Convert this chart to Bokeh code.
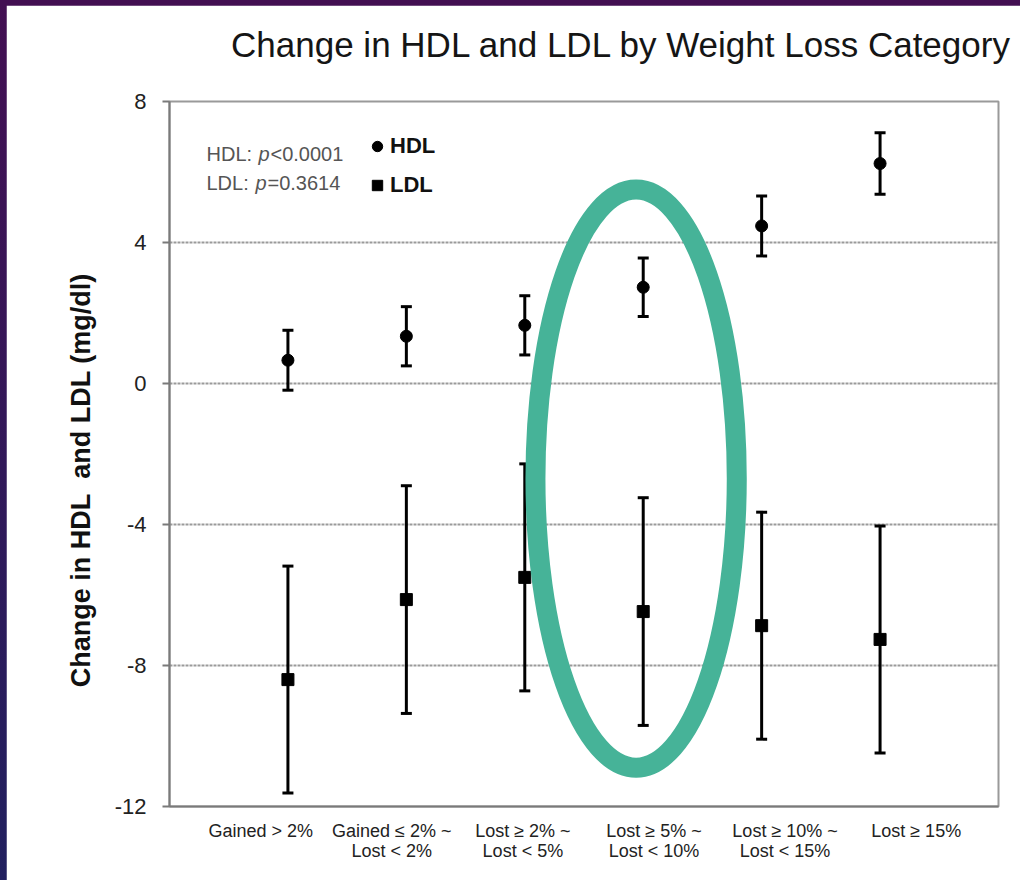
from bokeh.plotting import figure
from bokeh.models import (Range1d, FixedTicker, Whisker, TeeHead, ColumnDataSource,
                          Legend, LegendItem, Label, Title)
from bokeh.embed import file_html
from bokeh.resources import INLINE

# ---------------- data ----------------
categories = ["Gained > 2%", "Gained \u2264 2% ~\nLost < 2%", "Lost \u2265 2% ~\nLost < 5%",
              "Lost \u2265 5% ~\nLost < 10%", "Lost \u2265 10% ~\nLost < 15%", "Lost \u2265 15%"]
positions = [1, 2, 3, 4, 5, 6]
hdl_mean = [0.66, 1.34, 1.65, 2.73, 4.47, 6.24]
hdl_err = [0.85, 0.84, 0.84, 0.83, 0.85, 0.87]
ldl_mean = [-8.40, -6.13, -5.50, -6.47, -6.87, -7.26]
ldl_err = [3.22, 3.23, 3.22, 3.23, 3.22, 3.22]
y_ticks = [-12, -8, -4, 0, 4, 8]
y_tick_labels = ["-12", "-8", "-4", "0", "4", "8"]
title_text = "Change in HDL and LDL by Weight Loss Category"
y_label_text = "Change in HDL\u00a0 and LDL (mg/dl)"
hdl_p_text = "<0.0001"
ldl_p_text = "=0.3614"
highlight_category = 4
highlight_center_y = -2.70

# ---------------- style ----------------
FONT = "Liberation Sans"
LABEL_START = 0.77      # tick-label placement (labels are spread wider than the points)
LABEL_STEP = 1.107
HIGHLIGHT_COLOR = "#46B398"
FRAME_W, FRAME_H = 829, 705
Y_LABEL_PAD = "\u00a0" * 7   # shifts the vertical axis label slightly downward

src_h = ColumnDataSource(dict(x=positions, y=hdl_mean,
                              lo=[m - e for m, e in zip(hdl_mean, hdl_err)],
                              hi=[m + e for m, e in zip(hdl_mean, hdl_err)]))
src_l = ColumnDataSource(dict(x=positions, y=ldl_mean,
                              lo=[m - e for m, e in zip(ldl_mean, ldl_err)],
                              hi=[m + e for m, e in zip(ldl_mean, ldl_err)]))

p = figure(frame_width=FRAME_W, frame_height=FRAME_H, output_backend="svg", toolbar_location=None,
           x_range=Range1d(0, 7), y_range=Range1d(-12, 8),
           min_border_left=163, min_border_right=22, min_border_top=96, min_border_bottom=74,
           background_fill_color="white", border_fill_color="white")
p.title_location = None

# spacer (closest to the frame) then the real title
p.add_layout(Title(text=" ", text_font_size="1px", standoff=20), "above")
p.add_layout(Title(text=title_text, align="right", offset=-14, standoff=30,
                   text_font=FONT, text_font_size="35px", text_font_style="normal",
                   text_color="#151515"), "above")

p.outline_line_color = "#9a9a9a"
p.outline_line_width = 2

# axes
ya = p.yaxis[0]
ya.ticker = FixedTicker(ticks=y_ticks)
ya.major_label_overrides = {t: s for t, s in zip(y_ticks, y_tick_labels)}
ya.major_tick_out = 7
ya.major_tick_in = 0
ya.minor_tick_line_color = None
ya.axis_line_color = "#7a7a7a"
ya.axis_line_width = 2
ya.major_tick_line_color = "#7a7a7a"
ya.major_tick_line_width = 2
ya.major_label_text_font = FONT
ya.major_label_text_font_size = "22px"
ya.major_label_text_color = "#222222"
ya.major_label_standoff = 16
ya.axis_label = y_label_text + Y_LABEL_PAD
ya.axis_label_text_font = FONT
ya.axis_label_text_font_size = "27px"
ya.axis_label_text_font_style = "bold"
ya.axis_label_text_color = "#111111"
ya.axis_label_standoff = 16

label_pos = [round(LABEL_START + i * LABEL_STEP, 3) for i in range(len(categories))]
xa = p.xaxis[0]
xa.ticker = FixedTicker(ticks=label_pos)
xa.major_label_overrides = {lp: c for lp, c in zip(label_pos, categories)}
xa.major_tick_line_color = None
xa.minor_tick_line_color = None
xa.axis_line_color = "#7a7a7a"
xa.axis_line_width = 2
xa.major_label_text_font = FONT
xa.major_label_text_font_size = "18px"
xa.major_label_text_line_height = 1.0
xa.major_label_text_color = "#222222"
xa.major_label_standoff = 8

p.xgrid.grid_line_color = None
p.ygrid.ticker = FixedTicker(ticks=y_ticks)
p.ygrid.grid_line_color = "#9a9a9a"
p.ygrid.grid_line_width = 2
p.ygrid.grid_line_dash = "3 1"

# error bars
for src in (src_h, src_l):
    w = Whisker(source=src, base="x", lower="lo", upper="hi", line_width=3, line_color="black",
                upper_head=TeeHead(size=11, line_width=3, line_color="black"),
                lower_head=TeeHead(size=11, line_width=3, line_color="black"))
    p.add_layout(w)

r_h = p.scatter("x", "y", source=src_h, marker="circle", size=12, color="black")
r_l = p.scatter("x", "y", source=src_l, marker="square", size=12, color="black")

legend = Legend(items=[LegendItem(label="HDL", renderers=[r_h]),
                       LegendItem(label="LDL", renderers=[r_l])],
                location=(195, 608), padding=0, margin=0, spacing=13,
                glyph_width=26, glyph_height=26, label_height=26, label_standoff=-9,
                background_fill_alpha=0, border_line_color=None,
                label_text_font=FONT, label_text_font_size="22px",
                label_text_font_style="bold", label_text_color="#111111")
p.add_layout(legend, "center")

# p-value annotations (screen units relative to the frame)
for ytxt, name, x2, x3, val in ((FRAME_H - 52, "HDL:", 89, 101, hdl_p_text),
                                (FRAME_H - 81, "LDL:", 86, 98, ldl_p_text)):
    for xx, txt, fs in ((37, name, "normal"), (x2, "p", "italic"), (x3, val, "normal")):
        p.add_layout(Label(x=xx, y=ytxt, x_units="screen", y_units="screen", text=txt,
                           text_font=FONT, text_font_size="20px", text_color="#555555",
                           text_font_style=fs, text_baseline="middle"))

# highlight ellipse around the "Lost >= 5% ~ Lost < 10%" group
p.ellipse(x=[positions[highlight_category - 1] - 0.06], y=[highlight_center_y], width=1.70, height=16.4,
          fill_color=None, line_color=HIGHLIGHT_COLOR, line_width=20)

html = file_html(p, INLINE)
style = ("<style>html{background:linear-gradient(to bottom,#430f52,#21205f);min-height:100%;}"
         "body{margin:5px 0 0 6px;background:transparent;}</style>")
html = html.replace("</head>", style + "</head>", 1)
open("out.html", "w").write(html)
